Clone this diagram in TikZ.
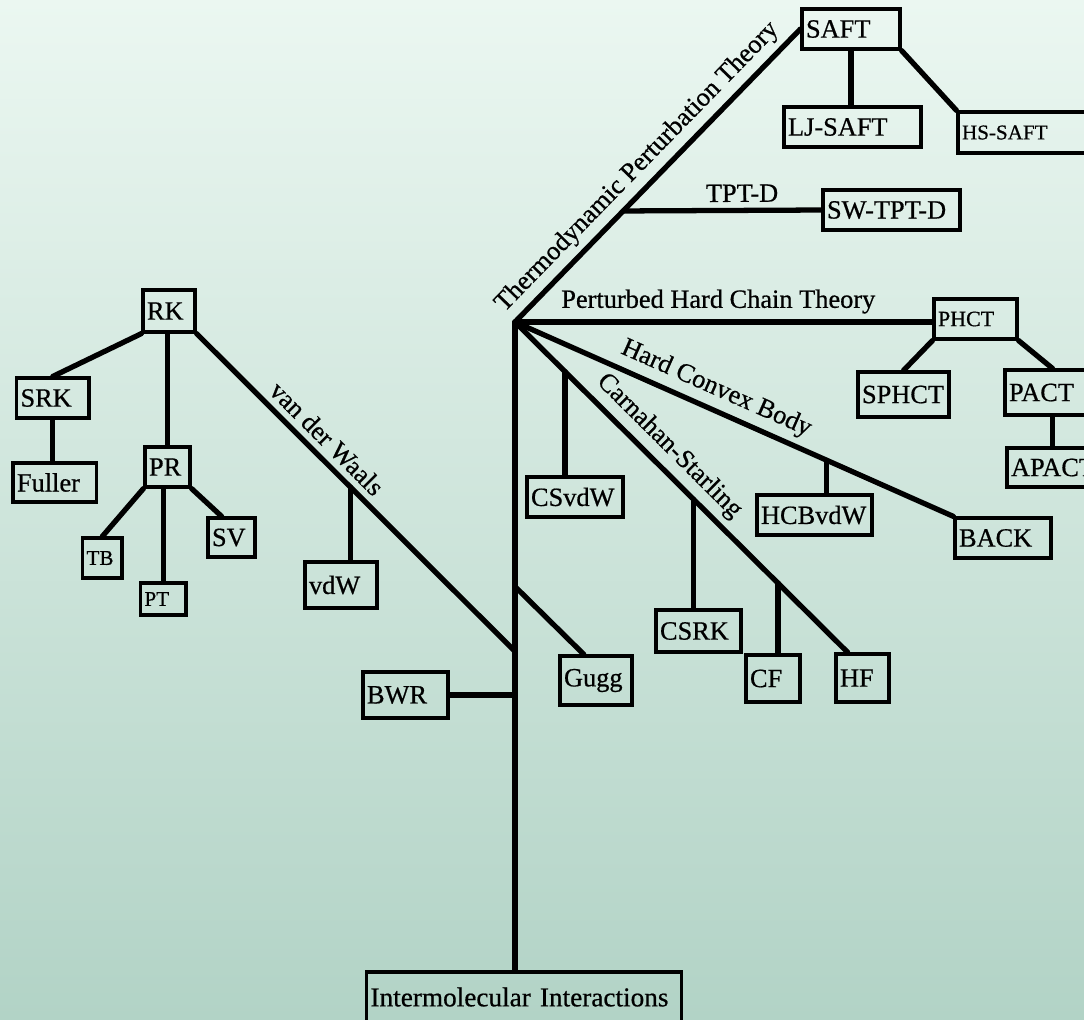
\documentclass[tikz,border=0pt]{standalone}
\usepackage{fontspec}
\setmainfont{Liberation Serif}[FakeBold=0.6]
\usetikzlibrary{calc}
\definecolor{MintTop}{HTML}{EBF7F1}
\definecolor{MintMid}{HTML}{D5EBE1}
\definecolor{MintLow}{HTML}{B2D3C6}

\begin{document}
\begin{tikzpicture}[
  x=0.02cm, y=-0.02cm,
  box/.style={draw, line width=1.8pt, text width=#1, align=left,
    inner xsep=0.08cm, inner ysep=0pt, minimum height=0.8cm,
    font=\fontsize{15}{16}\selectfont},
  smallbox/.style={box=#1, font=\fontsize{12}{13}\selectfont},
  branch/.style={line width=3pt, line cap=round},
  lbl/.style={font=\fontsize{15}{16}\selectfont, sloped, above}]
  \path[use as bounding box] (0,0) rectangle (1084,1019);
  \clip (0,0) rectangle (1084,1019);
  \fill[top color=MintTop, middle color=MintMid, bottom color=MintLow]
    (0,0) rectangle (1084,1019);

  % cubic equations of state
  \node[box=0.88cm, minimum height=0.84cm] (RK) at (169,311) {RK};
  \node[box=1.29cm] (SRK) at (52.75,398) {SRK};
  \node[box=1.51cm, minimum height=0.78cm] (Fuller) at (54.75,482.5) {Fuller};
  \node[box=0.74cm] (PR) at (167.5,467) {PR};
  \node[smallbox=0.63cm] (TB) at (102.3,558) {TB};
  \node[smallbox=0.75cm, minimum height=0.64cm] (PT) at (163.25,599) {PT};
  \node[box=0.78cm, minimum height=0.78cm] (SV) at (231.5,537.5) {SV};
  \node[box=1.28cm, minimum height=0.92cm] (vdW) at (341,585) {vdW};
  \node[box=1.54cm, minimum height=0.92cm] (BWR) at (405.5,695) {BWR};
  \node[box=1.28cm, minimum height=0.98cm] (Gugg) at (596,680.5) {Gugg};
  \node[box=6.14cm, minimum height=1cm, font=\fontsize{15.5}{16}\selectfont]
    (Inter) at (524,997) {Intermolecular Interactions};

  % perturbation and hard body models
  \node[box=1.8cm] (SAFT) at (851,29) {SAFT};
  \node[box=2.58cm] (LJSAFT) at (852.5,127) {LJ-SAFT};
  \node[smallbox=2.68cm, minimum height=0.82cm] (HSSAFT) at (1029,132.5) {HS-SAFT};
  \node[box=2.58cm] (SWTPTD) at (891.5,210) {SW-TPT-D};
  \node[box=1.5cm, font=\fontsize{12.5}{13}\selectfont] (PHCT) at (975.5,319) {PHCT};
  \node[box=1.66cm, minimum height=0.9cm] (SPHCT) at (903.5,394.5) {SPHCT};
  \node[box=1.74cm, minimum height=0.9cm] (PACT) at (1052.5,392.5) {PACT};
  \node[box=1.9cm, minimum height=0.78cm] (APACT) at (1058.5,467.5) {APACT};
  \node[box=1.76cm] (BACK) at (1003,538) {BACK};
  \node[box=2.14cm] (HCBvdW) at (814.5,515) {HCBvdW};
  \node[box=1.76cm] (CSvdW) at (575,497) {CSvdW};
  \node[box=1.54cm, minimum height=0.84cm] (CSRK) at (698.5,631) {CSRK};
  \node[box=0.92cm, minimum height=0.94cm] (CF) at (773,678.5) {CF};
  \node[box=0.9cm, minimum height=0.96cm] (HF) at (862.5,678) {HF};

  % trunk and hub
  \coordinate (hub) at (515,322);
  \draw[branch] (Inter.north -| hub) -- (hub);
  \path (hub) -- (Inter.north -| hub)
    coordinate[pos=0.408] (jgugg) coordinate[pos=0.508] (jvdw);
  \draw[branch] (BWR.east) -- (BWR.east -| hub);
  \draw[branch] (jgugg) -- (Gugg.115);

  % van der Waals family
  \draw[branch] (RK.south east) -- node[lbl, pos=0.37] {van der Waals} (jvdw);
  \path (RK.south east) -- (jvdw) coordinate[pos=0.483] (jvdwbox);
  \draw[branch] (jvdwbox) -- (jvdwbox |- vdW.north);
  \draw[branch] (RK.south west) -- (SRK.north);
  \draw[branch] (SRK.south) -- (SRK.south |- Fuller.north);
  \draw[branch] (PR.north) -- (PR.north |- RK.south);
  \draw[branch] (PR.south west) -- (TB.north);
  \draw[branch] (PT.north) -- (PT.north |- PR.south);
  \draw[branch] (PR.south east) -- (SV.115);

  % thermodynamic perturbation theory
  \draw[branch] (hub) -- node[lbl, pos=0.48] {Thermodynamic Perturbation Theory} (SAFT.west);
  \path (hub) -- (SAFT.west) coordinate[pos=0.379] (jtpt);
  \draw[branch] (jtpt) -- node[lbl, pos=0.6] {TPT-D} (SWTPTD.west);
  \draw[branch] (SAFT.south) -- (SAFT.south |- LJSAFT.north);
  \draw[branch] (SAFT.south east) -- (HSSAFT.north west);

  % perturbed hard chain theory
  \draw[branch] (hub) -- node[lbl, pos=0.487] {Perturbed Hard Chain Theory} (hub -| PHCT.west);
  \draw[branch] (PHCT.south west) -- (SPHCT.north);
  \draw[branch] (PHCT.south east) -- (PACT.north);
  \draw[branch] (PACT.south) -- (PACT.south |- APACT.north);

  % hard convex body
  \draw[branch] (hub) -- node[lbl, pos=0.44] {Hard Convex Body} (BACK.north west);
  \path (hub) -- (BACK.north west) coordinate[pos=0.711] (jhcb);
  \draw[branch] (jhcb) -- (jhcb |- HCBvdW.north);

  % Carnahan-Starling
  \draw[branch] (hub) -- node[lbl, pos=0.42] {Carnahan-Starling} (HF.120);
  \path (hub) -- (HF.120) coordinate[pos=0.150] (jcsvdw)
    coordinate[pos=0.536] (jcsrk) coordinate[pos=0.790] (jcf);
  \draw[branch] (jcsvdw) -- (jcsvdw |- CSvdW.north);
  \draw[branch] (jcsrk) -- (jcsrk |- CSRK.north);
  \draw[branch] (jcf) -- (jcf |- CF.north);
\end{tikzpicture}
\end{document}
